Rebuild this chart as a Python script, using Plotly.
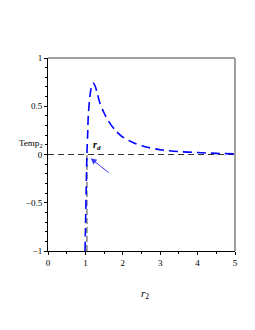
import plotly.graph_objects as go

r_vals = [0.99, 1.0, 1.02, 1.04, 1.06, 1.08, 1.12, 1.16, 1.21, 1.26, 1.32, 1.39, 1.5, 1.61,
          1.8, 2.0, 2.3, 2.6, 3.0, 3.5, 4.0, 4.5, 5.0]
temp_vals = [-1.0, -0.8, -0.4, 0.0, 0.2, 0.42, 0.6, 0.7, 0.74, 0.71, 0.63, 0.53, 0.43, 0.35,
             0.25, 0.18, 0.12, 0.08, 0.05, 0.03, 0.02, 0.012, 0.007]
x_ticks = [0, 1, 2, 3, 4, 5]
y_ticks = [-1, -0.5, 0, 0.5, 1]
y_tick_labels = ["\u22121", "\u22120.5", "0", "0.5", "1"]
r_d = 1.04

font = "Liberation Serif, Times New Roman, serif"

fig = go.Figure()
fig.add_trace(go.Scatter(x=[0, 5], y=[0, 0], mode="lines",
                         line=dict(color="#333333", width=1, dash="6px,4px"),
                         hoverinfo="skip", showlegend=False))
fig.add_trace(go.Scatter(x=[r_d, r_d], y=[-1, 0], mode="lines",
                         line=dict(color="#808080", width=1.5, dash="6px,3px"),
                         hoverinfo="skip", showlegend=False))
fig.add_trace(go.Scatter(x=r_vals, y=temp_vals, mode="lines",
                         line=dict(color="#0000ff", width=1.6, dash="9px,5px", shape="spline", smoothing=0.8),
                         showlegend=False))

fig.add_annotation(x=1.14, y=-0.04, ax=1.66, ay=-0.2, xref="x", yref="y", axref="x", ayref="y",
                   text="", showarrow=True, arrowhead=2, arrowsize=1.2, arrowwidth=1,
                   arrowcolor="#3a3aff")
fig.add_annotation(x=1.3, y=0.09, xref="x", yref="y", showarrow=False,
                   text="<b><i>r</i></b><sub><b><i>d</i></b></sub>",
                   font=dict(family=font, size=10, color="black"))
fig.add_annotation(x=-0.016, y=0.11, xref="paper", yref="y", xanchor="right", yanchor="middle",
                   showarrow=False, text="Temp<sub>2</sub>",
                   font=dict(family=font, size=9, color="black"))
fig.add_annotation(x=0.52, y=-0.225, xref="paper", yref="paper", xanchor="center", yanchor="middle",
                   showarrow=False, text="<i>r</i><sub>2</sub>",
                   font=dict(family=font, size=11, color="black"))

fig.update_layout(
    width=255, height=330,
    margin=dict(l=40, r=28, t=50, b=87),
    plot_bgcolor="white", paper_bgcolor="white",
    font=dict(family=font, size=9, color="black"),
    shapes=[
        dict(type="line", xref="paper", yref="paper", x0=0, x1=1, y0=1, y1=1,
             line=dict(color="#a0a0a0", width=2)),
        dict(type="line", xref="paper", yref="paper", x0=1, x1=1, y0=0, y1=1,
             line=dict(color="#a0a0a0", width=2)),
    ],
)
fig.update_xaxes(range=[0, 5], tickvals=x_ticks, ticktext=[str(v) for v in x_ticks],
                 showgrid=False, zeroline=False, showline=True, linecolor="black", linewidth=1,
                 ticks="outside", ticklen=3, tickcolor="black",
                 minor=dict(ticks="outside", ticklen=2, dtick=0.5, tickcolor="black"))
fig.update_yaxes(range=[-1, 1], tickvals=y_ticks, ticktext=y_tick_labels,
                 showgrid=False, zeroline=False, showline=True, linecolor="black", linewidth=1,
                 ticks="outside", ticklen=3, tickcolor="black",
                 minor=dict(ticks="outside", ticklen=2, dtick=0.1, tickcolor="black"))

fig.write_html("out.html")
